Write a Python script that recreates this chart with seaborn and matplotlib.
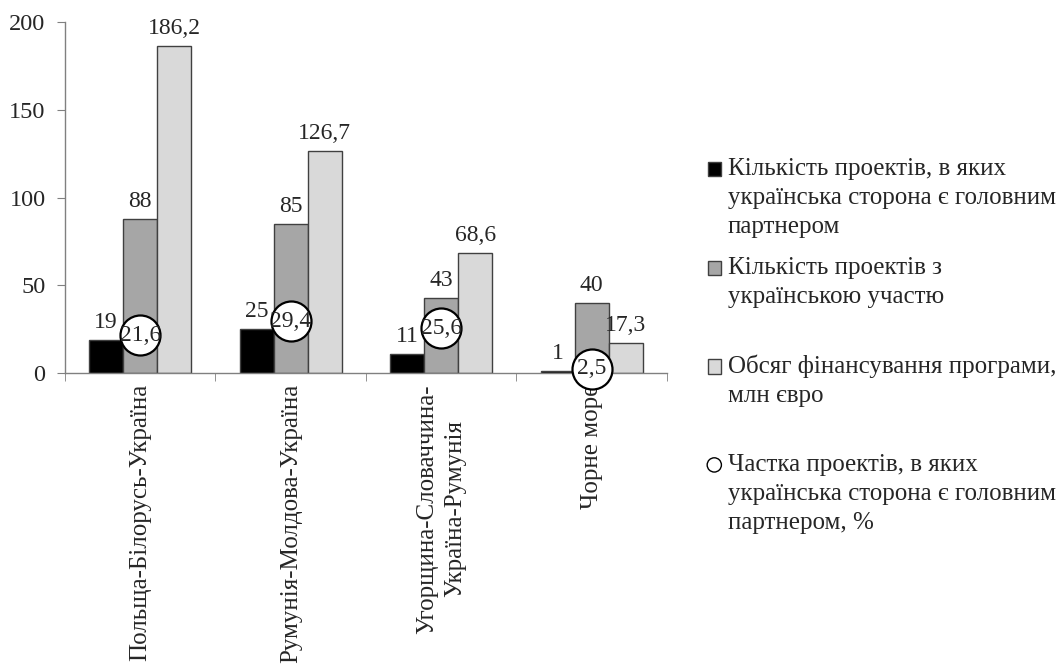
import numpy as np
import pandas as pd
import seaborn as sns
import matplotlib.pyplot as plt
from matplotlib.patches import Patch, Rectangle, Circle
from matplotlib.legend_handler import HandlerPatch

# -------------------------------
# Data
# -------------------------------
programs = [
    "Польща-Білорусь-Україна",
    "Румунія-Молдова-Україна",
    "Угорщина-Словаччина-\nУкраїна-Румунія",
    "Чорне море",
]
series_names = [
    "Кількість проектів, в яких\nукраїнська сторона є головним\nпартнером",
    "Кількість проектів з\nукраїнською участю",
    "Обсяг фінансування програми,\nмлн євро",
]
share_name = "Частка проектів, в яких\nукраїнська сторона є головним\nпартнером, %"

lead_projects = [19, 25, 11, 1]
ua_projects = [88, 85, 43, 40]
funding = [186.2, 126.7, 68.6, 17.3]
lead_share = [21.6, 29.4, 25.6, 2.5]

colors = ["#000000", "#a6a6a6", "#d9d9d9"]


def fmt(v):
    if float(v).is_integer():
        return f"{int(v)}"
    return f"{v:.1f}".replace(".", ",")


# -------------------------------
# Long-form table
# -------------------------------
rows = []
for name, vals in zip(series_names, [lead_projects, ua_projects, funding]):
    for prog, v in zip(programs, vals):
        rows.append({"program": prog, "series": name, "value": v})
df = pd.DataFrame(rows)

# -------------------------------
# Plot
# -------------------------------
sns.set_style("white")
plt.rcParams["font.family"] = ["Liberation Serif", "DejaVu Serif"]

fig = plt.figure(figsize=(10.62, 6.71), dpi=100)
ax = fig.add_axes([0.0612, 0.444, 0.5668, 0.523])

sns.barplot(data=df, x="program", y="value", hue="series", order=programs,
            hue_order=series_names, palette=colors, width=0.68, gap=0,
            errorbar=None, edgecolor="#404040", linewidth=1, legend=False, ax=ax)

for cont, vals in zip(ax.containers, [lead_projects, ua_projects, funding]):
    ax.bar_label(cont, labels=[fmt(v) for v in vals], padding=5, fontsize=17)

# share circles
xpos = np.arange(len(programs))
ax.scatter(xpos, lead_share, s=830, facecolor="white", edgecolor="black",
           linewidth=1.6, zorder=5, clip_on=False)
for x, v in zip(xpos, lead_share):
    ax.text(x, v, fmt(v), ha="center", va="center", fontsize=17, zorder=6)

ax.set_ylim(0, 200)
ax.set_yticks([0, 50, 100, 150, 200])
ax.set_xlim(-0.5, len(programs) - 0.5)
ax.set_xlabel("")
ax.set_ylabel("")
ax.tick_params(axis="y", labelsize=17.5, left=True, length=6, color="#808080", pad=8)
ax.tick_params(axis="x", which="major", length=0, labelsize=18, pad=8)
ax.set_xticks(np.arange(-0.5, len(programs)), minor=True)
ax.tick_params(axis="x", which="minor", bottom=True, length=6, color="#808080")
for lab in ax.get_xticklabels():
    lab.set_rotation(90)
    lab.set_linespacing(1.4)

for side in ["top", "right"]:
    ax.spines[side].set_visible(False)
for side in ["left", "bottom"]:
    ax.spines[side].set_color("#808080")
    ax.spines[side].set_linewidth(1)


# -------------------------------
# Legend: one block per entry, marker on the first text line
# -------------------------------
LINE_PT = 28.5 * 0.72  # line height of the legend text in points


def square_at_top(nlines):
    def make(legend, orig_handle, xdescent, ydescent, width, height, fontsize):
        shift = (nlines - 1) / 2 * LINE_PT
        return Rectangle((-xdescent, -ydescent + shift), width, height)
    return make


def circle_at_top(nlines):
    def make(legend, orig_handle, xdescent, ydescent, width, height, fontsize):
        shift = (nlines - 1) / 2 * LINE_PT
        r = height / 2
        return Circle((-xdescent + width / 2, -ydescent + r + shift), r)
    return make


entries = [
    (Patch(facecolor=colors[0], edgecolor="#404040", linewidth=1), series_names[0], 0.7645, False),
    (Patch(facecolor=colors[1], edgecolor="#404040", linewidth=1), series_names[1], 0.617, False),
    (Patch(facecolor=colors[2], edgecolor="#404040", linewidth=1), series_names[2], 0.471, False),
    (Patch(facecolor="white", edgecolor="black", linewidth=1), share_name, 0.3234, True),
]
for handle, label, ytop, is_circle in entries:
    n = label.count("\n") + 1
    func = circle_at_top(n) if is_circle else square_at_top(n)
    leg = fig.legend([handle], [label], loc="upper left", bbox_to_anchor=(0.6667, ytop),
                     frameon=False, fontsize=18, borderpad=0, borderaxespad=0,
                     handlelength=0.5, handleheight=0.5, handletextpad=0.28,
                     handler_map={Patch: HandlerPatch(patch_func=func)})
    for t in leg.get_texts():
        t.set_linespacing(1.4)

fig.savefig("out.png", dpi=100)
